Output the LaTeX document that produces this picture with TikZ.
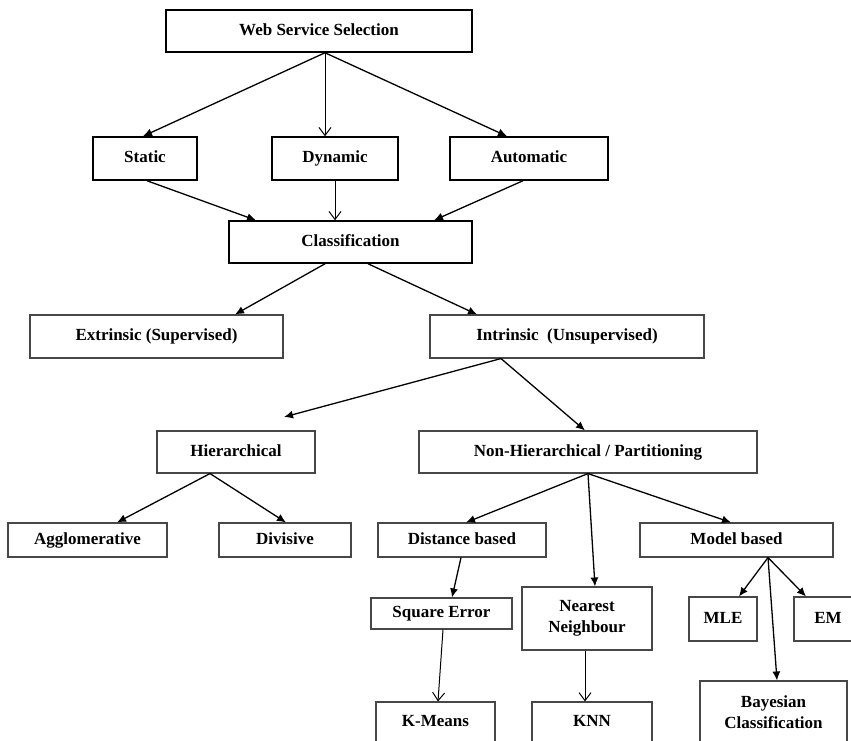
\documentclass[tikz,border=0pt]{standalone}
\usepackage{fontspec}
\setmainfont{Liberation Serif}
\usetikzlibrary{arrows.meta}
\begin{document}
\begin{tikzpicture}[x=1pt,y=-1pt,
  every node/.style={font=\fontsize{17}{21}\selectfont\bfseries, inner sep=0pt, align=center},
  one/.style={text height=11.5pt, text depth=3.5pt},
  topbox/.style={draw=black, line width=1.5pt, rectangle, one},
  lowbox/.style={draw=black!72, line width=1.1pt, rectangle, one},
  multibox/.style={draw=black!72, line width=1.1pt, rectangle},
  fillarr/.style={line width=1.3pt, -{Latex[length=9pt,width=8pt]}},
  openarr/.style={line width=1pt, -{Straight Barb[length=8pt,width=12pt]}}
]
\useasboundingbox (0,0) rectangle (851,740);

% top level
\node[topbox, minimum width=306pt, minimum height=42pt] (web) at (319,31) {Web Service Selection};
\node[topbox, minimum width=104pt, minimum height=43pt] (static) at (145,158.5) {Static};
\node[topbox, minimum width=126pt, minimum height=43pt] (dynamic) at (335,158.5) {Dynamic};
\node[topbox, minimum width=158pt, minimum height=43pt] (auto) at (529,158.5) {Automatic};
\node[topbox, minimum width=243pt, minimum height=42pt] (class) at (350.5,242) {Classification};

% second level
\node[lowbox, minimum width=253pt, minimum height=43pt] (extr) at (156.5,336.5) {Extrinsic (Supervised)};
\node[lowbox, minimum width=274pt, minimum height=43pt] (intr) at (567,336.5) {Intrinsic~ (Unsupervised)};
\node[lowbox, minimum width=158pt, minimum height=42pt] (hier) at (236,452) {Hierarchical};
\node[lowbox, minimum width=338pt, minimum height=42pt] (nonh) at (588,452) {Non-Hierarchical / Partitioning};
\coordinate (hierin) at (284,417);

% third level
\node[lowbox, minimum width=159pt, minimum height=34pt] (aggl) at (87.5,540) {Agglomerative};
\node[lowbox, minimum width=132pt, minimum height=34pt] (divi) at (285,540) {Divisive};
\node[lowbox, minimum width=168pt, minimum height=34pt] (dist) at (462,540) {Distance based};
\node[lowbox, minimum width=193pt, minimum height=34pt] (model) at (736.5,540) {Model based};

% fourth level
\node[lowbox, minimum width=141pt, minimum height=31pt] (sqerr) at (441.5,613.5) {Square Error};
\node[multibox, minimum width=130pt, minimum height=63pt] (nn) at (587,618.5) {Nearest\\Neighbour};
\node[lowbox, minimum width=68pt, minimum height=44pt] (mle) at (723,619) {MLE};
\node[lowbox, minimum width=68pt, minimum height=44pt] (em) at (828,619) {EM};

% bottom level
\node[lowbox, minimum width=119pt, minimum height=40pt] (kmeans) at (435.5,722) {K-Means};
\node[lowbox, minimum width=120pt, minimum height=40pt] (knn) at (592,722) {KNN};
\node[multibox, minimum width=147pt, minimum height=62pt] (bayes) at (773.5,712) {Bayesian\\Classification};

% connectors
\draw[fillarr] ([xshift=6pt]web.south) -- ([xshift=-2pt]static.north);
\draw[openarr] ([xshift=6pt]web.south) -- ([xshift=-10pt]dynamic.north);
\draw[fillarr] ([xshift=6pt]web.south) -- ([xshift=-22pt]auto.north);

\draw[fillarr] ([xshift=2pt]static.south) -- ([xshift=-94.5pt]class.north);
\draw[openarr] (dynamic.south) -- ([xshift=-15.5pt]class.north);
\draw[fillarr] ([xshift=-6pt]auto.south) -- ([xshift=83.5pt]class.north);

\draw[fillarr] ([xshift=-25.5pt]class.south) -- ([xshift=78.5pt]extr.north);
\draw[fillarr] ([xshift=17.5pt]class.south) -- ([xshift=-90pt]intr.north);

\draw[fillarr] ([xshift=-66pt]intr.south) -- (hierin);
\draw[fillarr] ([xshift=-66pt]intr.south) -- ([xshift=-3pt]nonh.north);

\draw[fillarr] ([xshift=-26pt]hier.south) -- ([xshift=29.5pt]aggl.north);
\draw[fillarr] ([xshift=-26pt]hier.south) -- ([xshift=1pt]divi.north);

\draw[fillarr] (nonh.south) -- ([xshift=4pt]dist.north);
\draw[fillarr] (nonh.south) -- ([xshift=8pt]nn.north);
\draw[fillarr] (nonh.south) -- ([xshift=-5.5pt]model.north);

\draw[fillarr] ([xshift=-1pt]dist.south) -- ([xshift=10.5pt]sqerr.north);
\draw[openarr] ([xshift=1.5pt]sqerr.south) -- ([xshift=2.5pt]kmeans.north);
\draw[openarr] ([xshift=-2pt]nn.south) -- ([xshift=-7pt]knn.north);

\draw[fillarr] ([xshift=31.5pt]model.south) -- ([xshift=16pt]mle.north);
\draw[fillarr] ([xshift=31.5pt]model.south) -- ([xshift=-22pt]em.north);
\draw[fillarr] ([xshift=31.5pt]model.south) -- ([xshift=3.5pt]bayes.north);
\end{tikzpicture}
\end{document}
